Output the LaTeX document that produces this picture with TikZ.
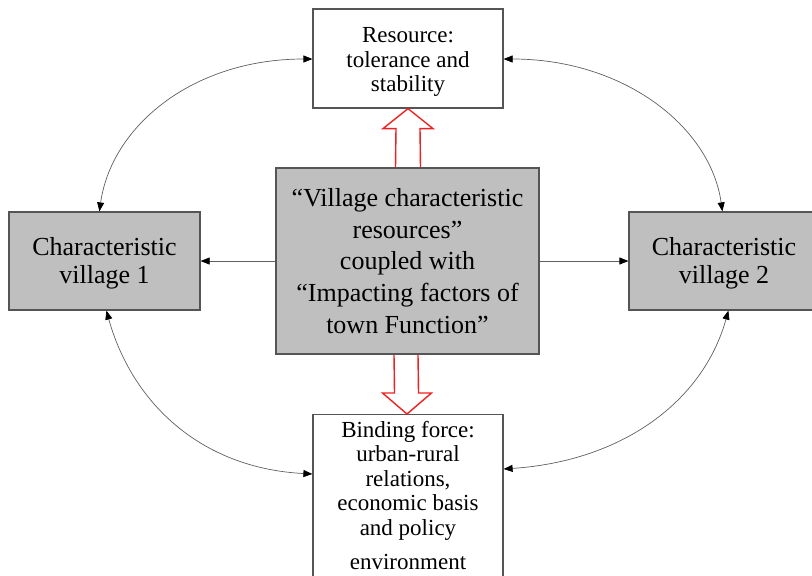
\documentclass[tikz,border=0pt]{standalone}
\usepackage{fontspec}
\setmainfont{Liberation Serif}
\usetikzlibrary{arrows.meta,calc}
\definecolor{boxgray}{RGB}{192,191,192}
\definecolor{edgegray}{RGB}{85,85,85}
\definecolor{linkgray}{RGB}{95,95,95}
\definecolor{flowred}{RGB}{238,32,32}

\begin{document}
\begin{tikzpicture}[x=1pt,y=-1pt,
  greybox/.style={draw=edgegray, line width=1.2pt, fill=boxgray, align=center,
    font=\fontsize{26}{28}\selectfont, inner sep=0pt},
  whitebox/.style={draw=edgegray, line width=1.2pt, fill=white, align=center,
    font=\fontsize{23}{24.5}\selectfont, inner sep=0pt},
  link/.style={draw=linkgray, line width=0.7pt, {Triangle[length=9pt,width=7pt,black]}-{Triangle[length=9pt,width=7pt,black]}},
  oneway/.style={draw=linkgray, line width=0.7pt, -{Triangle[length=9pt,width=7pt,black]}},
  hollow/.style={draw=flowred, line width=1.4pt, line join=miter}
]
\useasboundingbox (0,0) rectangle (812,576);
\clip (0,0) rectangle (812,576);

% boxes
\node[whitebox, minimum width=190pt, minimum height=99pt] (res) at (408,58.5)
  {\rule{0pt}{22pt}Resource:\\tolerance and\\stability};
\node[greybox, minimum width=263pt, minimum height=186pt,
  font=\fontsize{26}{31.75}\selectfont] (core) at (407.5,261)
  {“Village characteristic\\resources”\\coupled with\\“Impacting factors of\\town Function”};
\node[greybox, minimum width=191pt, minimum height=98pt] (v1) at (104.5,261)
  {\rule{0pt}{22pt}Characteristic\\village 1};
\node[greybox, minimum width=190pt, minimum height=98pt] (v2) at (724,261)
  {\rule{0pt}{22pt}Characteristic\\village 2};
\node[whitebox, minimum width=190pt, inner ysep=6.5pt, anchor=north] (bind) at (408,414)
  {Binding force:\\urban-rural\\relations,\\economic basis\\and policy\\[10pt]environment};

% straight links from the core
\draw[oneway] (core.west) -- (v1.east);
\draw[oneway] (core.east) -- (v2.west);

% curved two-way links
\draw[link] ($(res.west)+(0,0.5)$) .. controls +(-120,0) and +(12,-85) .. ($(v1.north west)+(91,0)$);
\draw[link] ($(res.east)+(0,0.5)$) .. controls +(120,0) and +(-12,-85) .. ($(v2.north west)+(94,0)$);
\draw[link] ($(v1.south west)+(98,0)$) .. controls +(25,90) and +(-114,-6) .. ($(bind.north west)+(0,60)$);
\draw[link] ($(v2.south west)+(100,0)$) .. controls +(-25,90) and +(120,-8) .. ($(bind.north east)+(0,55)$);

% hollow red flow arrows
\draw[hollow] ($(core.north)+(-12,0)$) -- ($(res.south)+(-12,20)$) -- ($(res.south)+(-25,20)$)
  -- (res.south) -- ($(res.south)+(25,20)$) -- ($(res.south)+(12,20)$) -- ($(core.north)+(13,0)$);
\draw[hollow] ($(core.south)+(-13.5,0)$) -- ($(bind.north)+(-13.5,-21)$) -- ($(bind.north)+(-25.5,-21)$)
  -- ($(bind.north)+(-1,0)$) -- ($(bind.north)+(23.5,-21)$) -- ($(bind.north)+(10.5,-21)$) -- ($(core.south)+(10.5,0)$);
\end{tikzpicture}
\end{document}
